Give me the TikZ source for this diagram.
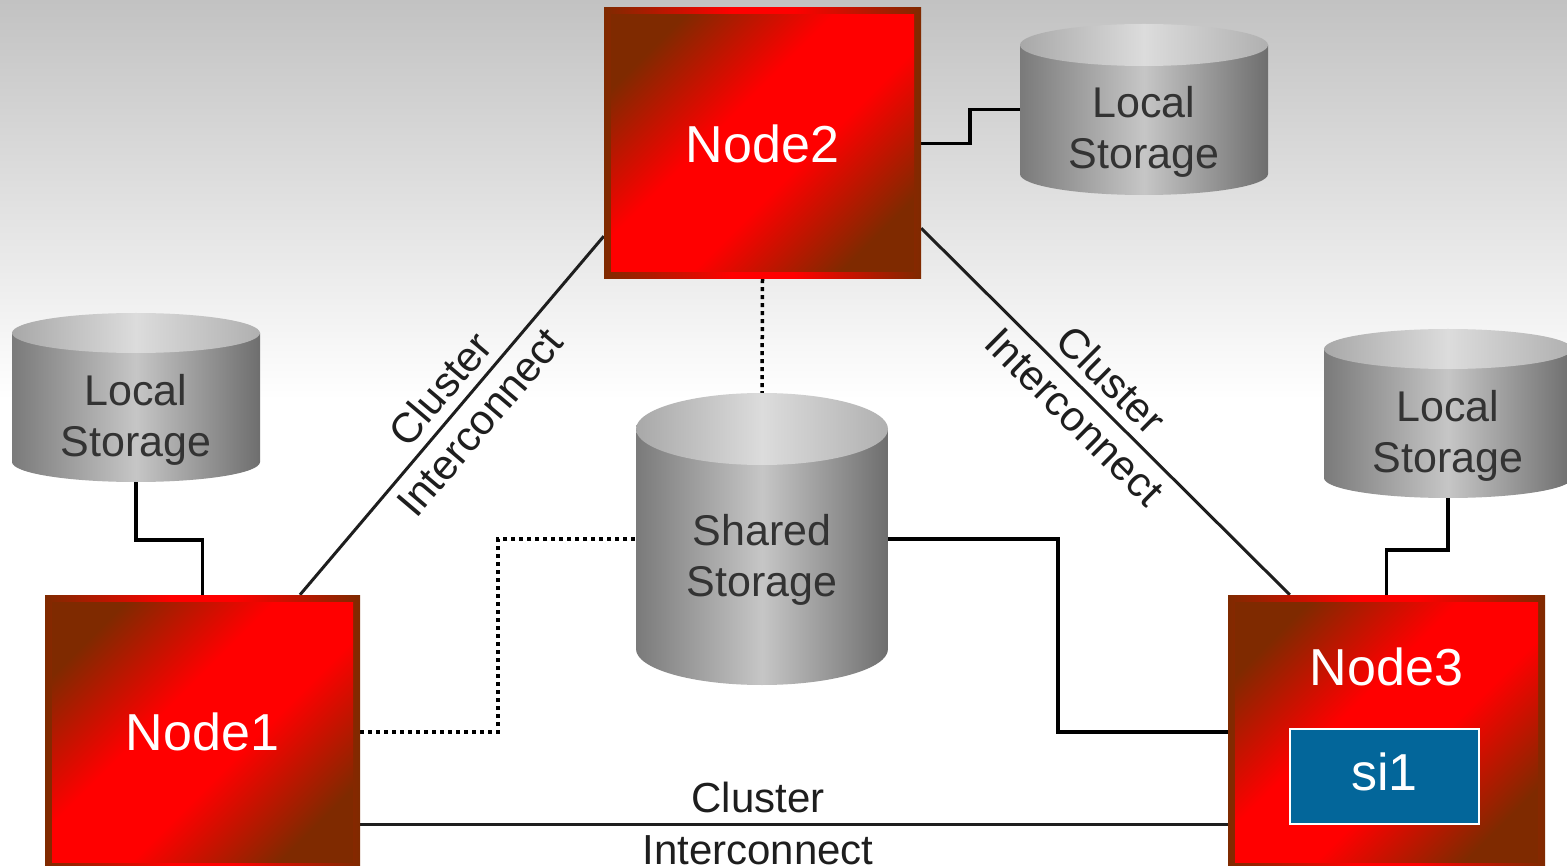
\documentclass[tikz,border=0pt]{standalone}
\usepackage{fontspec}
\setmainfont{Liberation Sans}
\usetikzlibrary{calc}
\definecolor{nb}{HTML}{7F2A00}
\definecolor{nr}{HTML}{FF0000}
\definecolor{cylL}{HTML}{7A7A7A}
\definecolor{cylM}{HTML}{C6C6C6}
\definecolor{cylR}{HTML}{6E6E6E}
\definecolor{topL}{HTML}{A8A8A8}
\definecolor{topM}{HTML}{DCDCDC}
\definecolor{topR}{HTML}{B0B0B0}
\definecolor{bgtop}{HTML}{C2C2C2}
\definecolor{sblue}{HTML}{03669A}
\definecolor{txtgray}{HTML}{333333}
\definecolor{linegray}{HTML}{1E1E1E}
\pgfdeclarehorizontalshading{redband}{100bp}{color(0bp)=(nb); color(25bp)=(nb); color(43bp)=(nr); color(57bp)=(nr); color(75bp)=(nb); color(100bp)=(nb)}
\pgfdeclarehorizontalshading{redframe}{100bp}{color(0bp)=(nb); color(25bp)=(nb); color(45bp)=(nr); color(55bp)=(nr); color(75bp)=(nb); color(100bp)=(nb)}
\newcommand\bigfnt{\fontsize{52pt}{60pt}\selectfont}
\newcommand\midfnt{\fontsize{43pt}{51pt}\selectfont}
\newcommand\lblfnt{\fontsize{42pt}{50pt}\selectfont}
% cylinder: cx, top-centre y, bottom-centre y, rx, ry
\newcommand\drawcyl[5]{%
  \shade[left color=cylL, right color=cylR, middle color=cylM]
    ({#1-#4},#2) -- ({#1-#4},#3) arc[start angle=180, end angle=360, x radius=#4pt, y radius=#5pt]
    -- ({#1+#4},#2) -- cycle;
  \shade[left color=topL, right color=topR, middle color=topM]
    (#1,#2) ellipse [x radius=#4pt, y radius=#5pt];
}
\pgfdeclarelayer{bg}
\pgfdeclarelayer{wires}
\pgfsetlayers{bg,wires,main}
\tikzset{
  nodebox/.style={rectangle, inner sep=0pt, draw=none,
    shading=redframe,
    path picture={\shade[shading=redband, shading angle=-45]
      ([xshift=7pt,yshift=7pt]path picture bounding box.south west) rectangle
      ([xshift=-7pt,yshift=-7pt]path picture bounding box.north east);},
    text=white, font=\bigfnt},
  nodetext/.style={text=white, font=\bigfnt, inner sep=0pt},
  cylnode/.style={rectangle, inner sep=0pt, draw=none},
  stortext/.style={text=txtgray, font=\midfnt, align=center, inner sep=0pt},
  sibox/.style={rectangle, fill=sblue, draw=white, line width=2pt, inner sep=0pt,
    minimum width=189pt, minimum height=95pt, text=white, font=\bigfnt, text depth=10pt},
  conn/.style={draw=black, line width=3.5pt},
  dotconn/.style={draw=black, line width=3.5pt, dash pattern=on 4pt off 4pt},
  ci/.style={draw=linegray, line width=3pt},
  lbl/.style={text=linegray, font=\lblfnt, inner sep=0pt}
}
\begin{document}
\begin{tikzpicture}[x=1pt,y=-1pt]
\useasboundingbox (0,0) rectangle (1567,866);
\clip (0,0) rectangle (1567,866);
\begin{pgfonlayer}{bg}
  \fill[white] (0,0) rectangle (1567,866);
  \shade[top color=bgtop, bottom color=white] (0,0) rectangle (1567,400);
\end{pgfonlayer}

% storage cylinders
\drawcyl{136}{333}{462}{124}{20}
\drawcyl{1144}{45}{174}{124}{21}
\drawcyl{1448}{349}{478}{124}{20}
\drawcyl{762}{429}{649}{126}{36}
\node[cylnode, minimum width=248pt, minimum height=169pt] (lsL) at (136,397.5) {};
\node[cylnode, minimum width=248pt, minimum height=171pt] (lsT) at (1144,109.5) {};
\node[cylnode, minimum width=248pt, minimum height=169pt] (lsR) at (1448,413.5) {};
\node[cylnode, minimum width=252pt, minimum height=292pt] (ss) at (762,539) {};
\node[stortext] (lsLt) at (136,419.5) {Local\\Storage};
\node[stortext] (lsTt) at (1144,132) {Local\\Storage};
\node[stortext] (lsRt) at (1448,435.5) {Local\\Storage};
\node[stortext] (sst) at (762,560) {Shared\\Storage};

% cluster nodes
\node[nodebox, minimum width=317pt, minimum height=271pt] (n2) at (762.5,143.5) {Node2};
\node[nodebox, minimum width=315pt, minimum height=274pt] (n1) at (202.5,732) {Node1};
\node[nodebox, minimum width=317pt, minimum height=274pt] (n3) at (1386.5,732) {};
\node[nodetext] (n3t) at (1386.5,666.5) {Node3};
\node[sibox] (si1) at (1384.5,776.5) {si1};

% connectors
\begin{pgfonlayer}{wires}
  \draw[conn] (n2.east) -- ++(49,0) |- (lsT.west);
  \draw[conn] (lsL.south) -- ++(0,58) -| (n1.north);
  \draw[conn] (lsR.south) -- ++(0,52) -| (n3.north);
  \draw[dotconn] (n2.south) -- (ss.north);
  \draw[dotconn] (n1.east) -- ++(138,0) |- (ss.west);
  \draw[conn] (ss.east) -- ++(170,0) |- (n3.west);
  \draw[ci] ([yshift=43pt]n2.south west) -- ([xshift=97.5pt]n1.north);
  \draw[ci] ([yshift=51pt]n2.south east) -- ([xshift=62pt]n3.north west);
  \draw[ci] ([yshift=-92pt]n1.east) -- ([yshift=-92pt]n3.west);
\end{pgfonlayer}

% cluster interconnect labels
\node[lbl, anchor=south, rotate=49.7] (l1a) at (451.8,398.7) {Cluster};
\node[lbl, anchor=north, rotate=49.7] (l1b) at (468.6,412.9) {Interconnect};
\node[lbl, anchor=south, rotate=-44.8] (l2a) at (1100.4,390.8) {Cluster};
\node[lbl, anchor=north, rotate=-44.8] (l2b) at (1084.8,406.4) {Interconnect};
\node[lbl, anchor=south] (l3a) at (758,813) {Cluster};
\node[lbl, anchor=north] (l3b) at (758,835) {Interconnect};
\end{tikzpicture}
\end{document}
